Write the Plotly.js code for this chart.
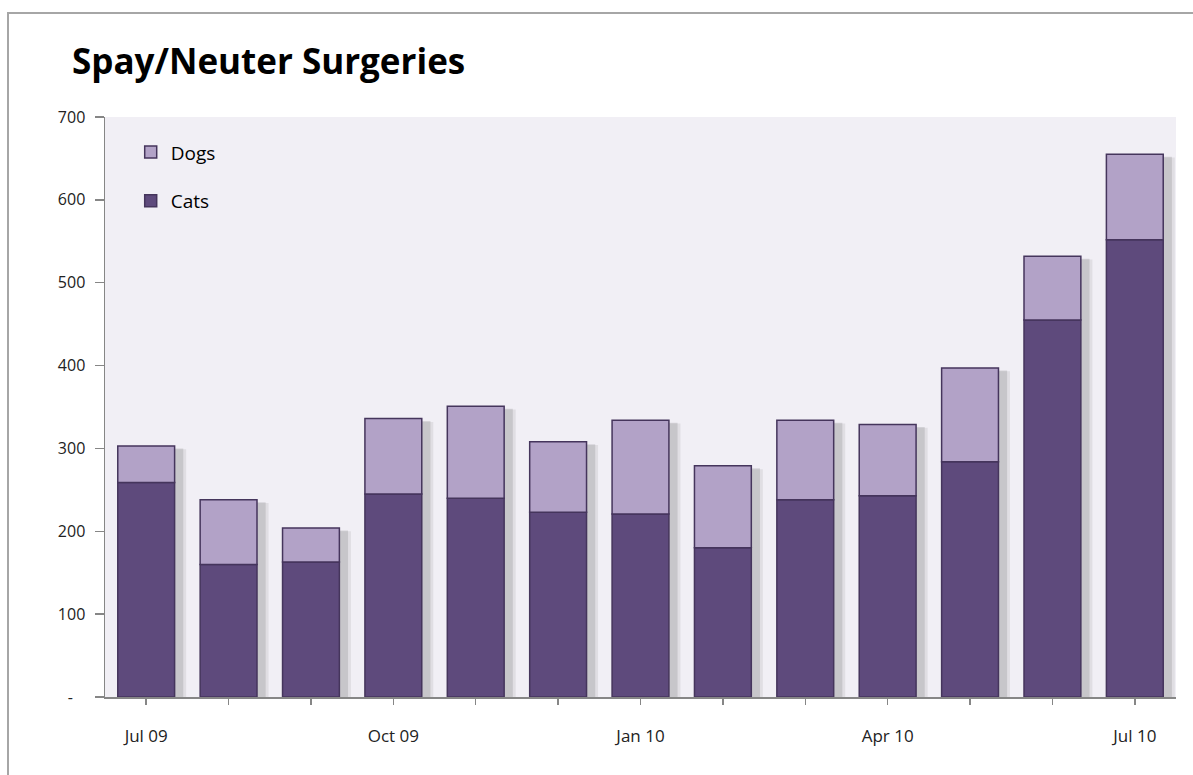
<!DOCTYPE html>
<html>
<head>
<meta charset="utf-8">
<script src="https://cdn.plot.ly/plotly-3.0.1.min.js"></script>
<style>
  html, body { margin: 0; padding: 0; background: #ffffff; overflow: hidden; }
  #frame { position: absolute; left: 7px; top: 12px; width: 1300px; height: 900px; border: 2px solid #a6a6a6; box-sizing: border-box; pointer-events: none; z-index: 5; }
  #chart { position: absolute; left: 0; top: 0; width: 1193px; height: 775px; }
</style>
</head>
<body>
<div id="chart"></div>
<div id="frame"></div>
<script>
const months = ["Jul 09","Aug 09","Sep 09","Oct 09","Nov 09","Dec 09","Jan 10","Feb 10","Mar 10","Apr 10","May 10","Jun 10","Jul 10"];
const monthLabels = ["Jul 09","","","Oct 09","","","Jan 10","","","Apr 10","","","Jul 10"];
const cats = [259, 160, 163, 245, 240, 223, 221, 180, 238, 243, 284, 455, 552];
const dogs = [44, 78, 41, 91, 111, 85, 113, 99, 96, 86, 113, 77, 103];
const yTickVals = [0, 100, 200, 300, 400, 500, 600, 700];
const yTickText = ["-\u00a0\u00a0\u00a0", "100", "200", "300", "400", "500", "600", "700"];

const font = "Open Sans, Liberation Sans, sans-serif";
const totals = cats.map((c, i) => c + dogs[i]);
const xRange = [-0.5, 12.5];

const traces = [
  // soft drop shadows (drawn on the base x axis, slightly shifted)
  {
    type: "bar", x: months, y: totals.map(t => t - 4), xaxis: "x", yaxis: "y",
    marker: { color: "rgba(60,60,60,0.09)", line: { width: 0 } },
    width: 0.82, showlegend: false, hoverinfo: "skip"
  },
  {
    type: "bar", x: months, y: totals.map(t => t - 3), xaxis: "x", yaxis: "y",
    marker: { color: "rgba(60,60,60,0.15)", line: { width: 0 } },
    width: 0.75, showlegend: false, hoverinfo: "skip"
  },
  {
    type: "bar", name: "Cats", x: months, y: cats, xaxis: "x2", yaxis: "y",
    marker: { color: "#5e4a7c", line: { color: "#45355c", width: 1.5 } },
    legendrank: 2, legendgroup: "cats", hoverinfo: "x+y+name"
  },
  {
    type: "bar", name: "Dogs", x: months, y: dogs, base: cats, xaxis: "x2", yaxis: "y",
    marker: { color: "#b2a2c7", line: { color: "#45355c", width: 1.5 } },
    legendrank: 1, legendgroup: "dogs", hoverinfo: "x+y+name"
  }
];

const layout = {
  width: 1193, height: 775,
  margin: { l: 105, r: 17, t: 117, b: 78 },
  paper_bgcolor: "#ffffff",
  plot_bgcolor: "#f1eff5",
  barmode: "overlay",
  bargap: 0.31,
  title: {
    text: "<b>Spay/Neuter Surgeries</b>",
    font: { family: font, size: 35, color: "#000000" },
    x: 72 / 1193, xanchor: "left", y: 1 - 62 / 775, yanchor: "middle"
  },
  showlegend: true,
  legend: {
    x: 0.024, y: 0.972, xanchor: "left", yanchor: "top",
    bgcolor: "rgba(0,0,0,0)",
    font: { family: font, size: 19, color: "#000000" },
    traceorder: "grouped",
    tracegroupgap: 21,
    itemwidth: 30
  },
  xaxis: {
    type: "category",
    range: [xRange[0] - 0.075, xRange[1] - 0.075],
    showticklabels: false, ticks: "",
    showline: false, showgrid: false, zeroline: false
  },
  xaxis2: {
    type: "category",
    overlaying: "x",
    side: "bottom",
    range: xRange,
    tickmode: "array",
    tickvals: months,
    ticktext: monthLabels,
    ticks: "outside", ticklen: 6, tickwidth: 1.5, tickcolor: "#868686",
    showline: true, linecolor: "#868686", linewidth: 1.5,
    showgrid: false, zeroline: false,
    tickfont: { family: font, size: 17, color: "#222222" },
    ticklabelstandoff: 17
  },
  yaxis: {
    range: [0, 700],
    tickmode: "array",
    tickvals: yTickVals,
    ticktext: yTickText,
    ticks: "outside", ticklen: 9, tickwidth: 1.5, tickcolor: "#868686",
    showline: true, linecolor: "#868686", linewidth: 1.5,
    showgrid: false, zeroline: false,
    tickfont: { family: font, size: 16, color: "#222222" },
    ticklabelstandoff: 6
  }
};

Plotly.newPlot("chart", traces, layout, { displayModeBar: false, staticPlot: true });
</script>
</body>
</html>
